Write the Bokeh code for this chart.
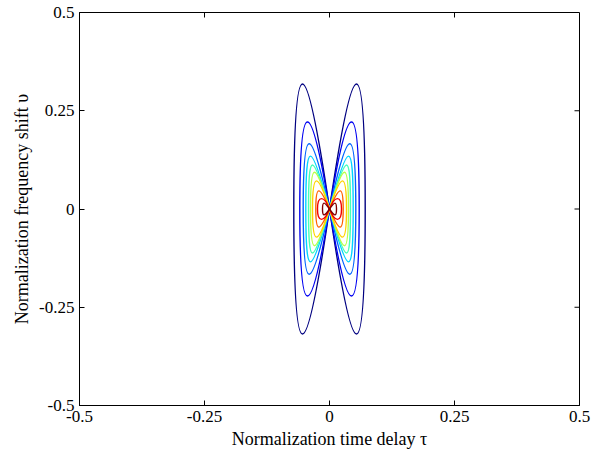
import math
from bokeh.plotting import figure
from bokeh.models import FixedTicker, ColumnDataSource, Range1d
from bokeh.embed import file_html
from bokeh.resources import INLINE

# ---- data (contour levels, outermost -> innermost) ----
level_colors = ["#000080", "#0000F1", "#0063FF", "#00D4FF", "#47FFB8",
                "#B8FF47", "#FFD400", "#FF6300", "#F10000", "#800000"]
lobe_tip_nu = [0.318, 0.2215, 0.166, 0.1346, 0.112, 0.0934, 0.0715, 0.046, 0.0265, 0.015]
lobe_tip_tau = [0.054, 0.044, 0.0406, 0.038, 0.034, 0.030, 0.026, 0.0214, 0.016, 0.011]
lobe_half_width = [0.0714, 0.0594, 0.0526, 0.0474, 0.042, 0.038, 0.034, 0.0274, 0.024, 0.014]

tick_values = [-0.5, -0.25, 0, 0.25, 0.5]
tick_labels = ["-0.5", "-0.25", "0", "0.25", "0.5"]

x_label = "Normalization time delay \u03c4"
y_label = "Normalization frequency shift \u03c5"

# ---- build the bezier table: every level has 4 quarter curves (lobe halves) ----
cols = {k: [] for k in ["x0", "y0", "x1", "y1", "cx0", "cy0", "cx1", "cy1", "color"]}
for col, h, a, w in zip(level_colors, lobe_tip_nu, lobe_tip_tau, lobe_half_width):
    c_in = (8 * a - 4 * w) / 3.0     # inner control so that the curve tip sits at tau=a
    c_h = h / 0.75                   # control height so that the curve tip reaches nu=h
    for sx in (-1, 1):
        for sy in (-1, 1):
            cols["x0"].append(0.0)
            cols["y0"].append(0.0)
            cols["x1"].append(sx * w)
            cols["y1"].append(0.0)
            cols["cx0"].append(sx * c_in)
            cols["cy0"].append(sy * c_h)
            cols["cx1"].append(sx * w)
            cols["cy1"].append(sy * c_h)
            cols["color"].append(col)
src = ColumnDataSource(cols)

FONT = "Liberation Serif"
lo, hi = tick_values[0], tick_values[-1]

p = figure(width=602, height=451, output_backend="svg", toolbar_location=None,
           x_range=Range1d(lo, hi), y_range=Range1d(lo, hi),
           min_border_left=79, min_border_right=23, min_border_top=12, min_border_bottom=43)
p.background_fill_color = "white"
p.border_fill_color = "white"
p.outline_line_color = "black"
p.outline_line_width = 1
p.xgrid.visible = False
p.ygrid.visible = False

p.bezier(x0="x0", y0="y0", x1="x1", y1="y1", cx0="cx0", cy0="cy0", cx1="cx1", cy1="cy1",
         line_color="color", line_width=1.4, source=src)

overrides = {v: s for v, s in zip(tick_values, tick_labels)}

for ax, lab in ((p.xaxis[0], x_label), (p.yaxis[0], y_label)):
    ax.ticker = FixedTicker(ticks=tick_values)
    ax.minor_tick_line_color = None
    ax.major_tick_in = 5
    ax.major_tick_out = 0
    ax.axis_line_color = "black"
    ax.major_tick_line_color = "black"
    ax.major_label_overrides = overrides
    ax.major_label_text_font = FONT
    ax.major_label_text_font_size = "17px"
    ax.major_label_text_color = "black"
    ax.major_label_standoff = 5
    ax.axis_label = lab
    ax.axis_label_text_font = FONT
    ax.axis_label_text_font_size = "18px"
    ax.axis_label_text_font_style = "normal"
    ax.axis_label_text_color = "black"
    ax.axis_label_standoff = 4

# inward tick marks on the top and right sides of the box
inner = tick_values[1:-1]
p.ray(x=inner, y=[hi] * len(inner), length=5, length_units="screen",
      angle=-math.pi / 2, line_color="black", line_width=1)
p.ray(x=[hi] * len(inner), y=inner, length=5, length_units="screen",
      angle=math.pi, line_color="black", line_width=1)

open("out.html", "w").write(file_html(p, INLINE))
